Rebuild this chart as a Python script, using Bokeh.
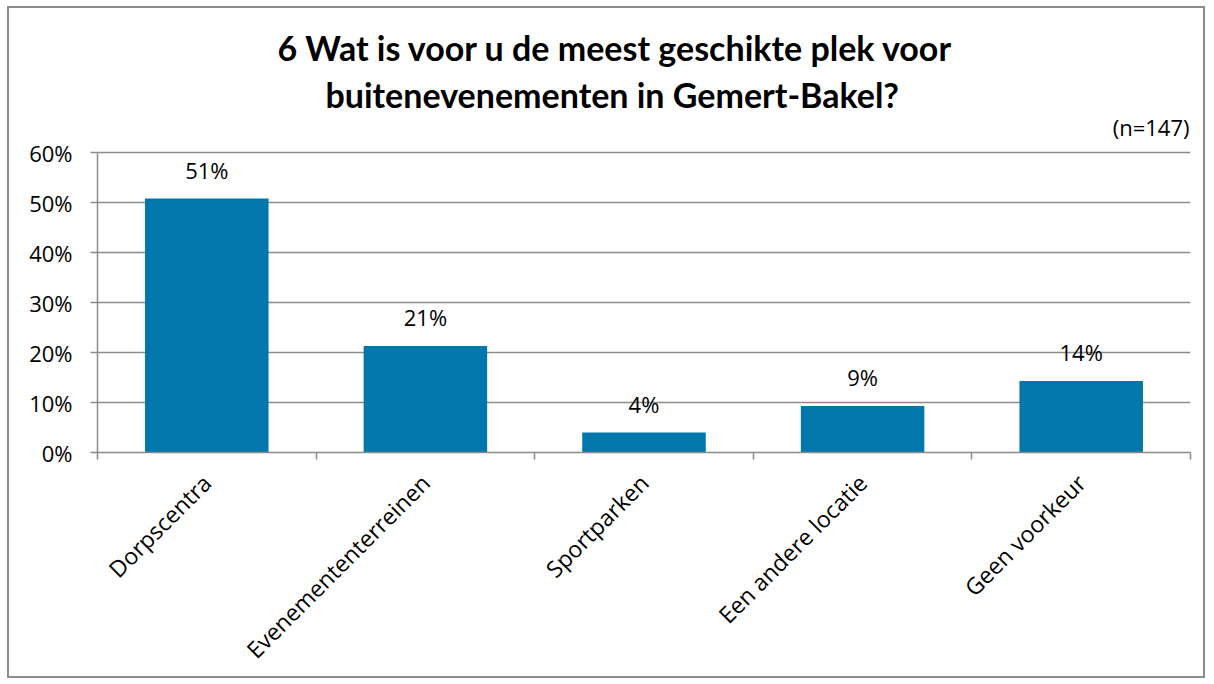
from math import pi
from bokeh.plotting import figure
from bokeh.models import (Range1d, FixedTicker, NumeralTickFormatter, Title, Label, LabelSet, ColumnDataSource)
from bokeh.core.properties import value
from bokeh.embed import file_html
from bokeh.resources import INLINE

categories = ["Dorpscentra", "Evenemententerreinen", "Sportparken", "Een andere locatie", "Geen voorkeur"]
values = [0.508, 0.213, 0.040, 0.093, 0.143]
value_labels = ["51%", "21%", "4%", "9%", "14%"]
y_ticks = [0.0, 0.1, 0.2, 0.3, 0.4, 0.5, 0.6]
title_line1 = "6 Wat is voor u de meest geschikte plek voor"
title_line2 = "buitenevenementen in Gemert-Bakel?"
note = "(n=147)"

GREY = "#8c8c8c"
BAR = "#0277ac"
W, H = 1198, 672
Y_VIEW_TOP = 0.666   # leaves room above the 60% line for the (n=147) note

n = len(categories)
centers = [i + 0.5 for i in range(n)]
boundaries = list(range(n + 1))

src = ColumnDataSource(dict(x=centers, cat=categories, val=values, lab=value_labels))

p = figure(width=W, height=H, x_range=Range1d(0, n), y_range=Range1d(0, Y_VIEW_TOP),
           output_backend="svg", toolbar_location=None,
           min_border_left=88, min_border_right=17, min_border_top=111, min_border_bottom=228)
p.title = None
p.outline_line_color = None
p.styles = {"border": "2px solid #8c8c8c", "margin-left": "7px", "margin-top": "6px"}

p.vbar(x="x", top="val", width=0.565, source=src, fill_color=BAR, line_color=None)

p.add_layout(LabelSet(x="x", y="val", text="lab", source=src, y_offset=20,
                      text_align="center", text_baseline="alphabetic",
                      text_font=value("Open Sans"), text_font_size=value("22px"),
                      text_color=value("#000000")))

# sample size note, top right above the 60% line
p.add_layout(Label(x=n, y=y_ticks[-1], text=note, x_offset=-1, y_offset=26,
                   text_align="right", text_baseline="middle",
                   text_font="Open Sans", text_font_size="22px", text_color="#000000"))

# y axis
yax = p.yaxis[0]
yax.ticker = FixedTicker(ticks=y_ticks)
yax.bounds = (y_ticks[0], y_ticks[-1])
yax.formatter = NumeralTickFormatter(format="0%")
yax.axis_line_color = GREY
yax.axis_line_width = 1.5
yax.major_tick_line_color = GREY
yax.major_tick_line_width = 1.5
yax.major_tick_in = 0
yax.major_tick_out = 7
yax.minor_tick_line_color = None
yax.major_label_text_font = "Open Sans"
yax.major_label_text_font_size = "22px"
yax.major_label_text_color = "#000000"
yax.major_label_standoff = 18

p.xgrid.grid_line_color = None
p.ygrid.ticker = FixedTicker(ticks=y_ticks)
p.ygrid.grid_line_color = GREY
p.ygrid.grid_line_width = 1.5

# x axis: labels at bar centres, tick marks at category boundaries
xax = p.xaxis[0]
xax.ticker = FixedTicker(ticks=centers, minor_ticks=boundaries)
xax.major_label_overrides = {c: cat for c, cat in zip(centers, categories)}
xax.major_tick_line_color = None
xax.major_tick_in = 0
xax.major_tick_out = 7
xax.minor_tick_line_color = GREY
xax.minor_tick_line_width = 1.5
xax.minor_tick_in = 0
xax.minor_tick_out = 7
xax.axis_line_color = GREY
xax.axis_line_width = 1.5
xax.major_label_orientation = pi / 4
xax.major_label_standoff = 19
xax.major_label_text_font = "Open Sans"
xax.major_label_text_font_size = "23px"
xax.major_label_text_color = "#000000"

# titles (first added is closest to the plot)
p.add_layout(Title(text=title_line2, align="left", offset=228, standoff=9,
                   text_font="Lato", text_font_size="34px", text_font_style="bold",
                   text_color="#000000"), "above")
p.add_layout(Title(text=title_line1, align="left", offset=180, standoff=0,
                   text_font="Lato", text_font_size="34px", text_font_style="bold",
                   text_color="#000000"), "above")

open("out.html", "w").write(file_html(p, INLINE))
